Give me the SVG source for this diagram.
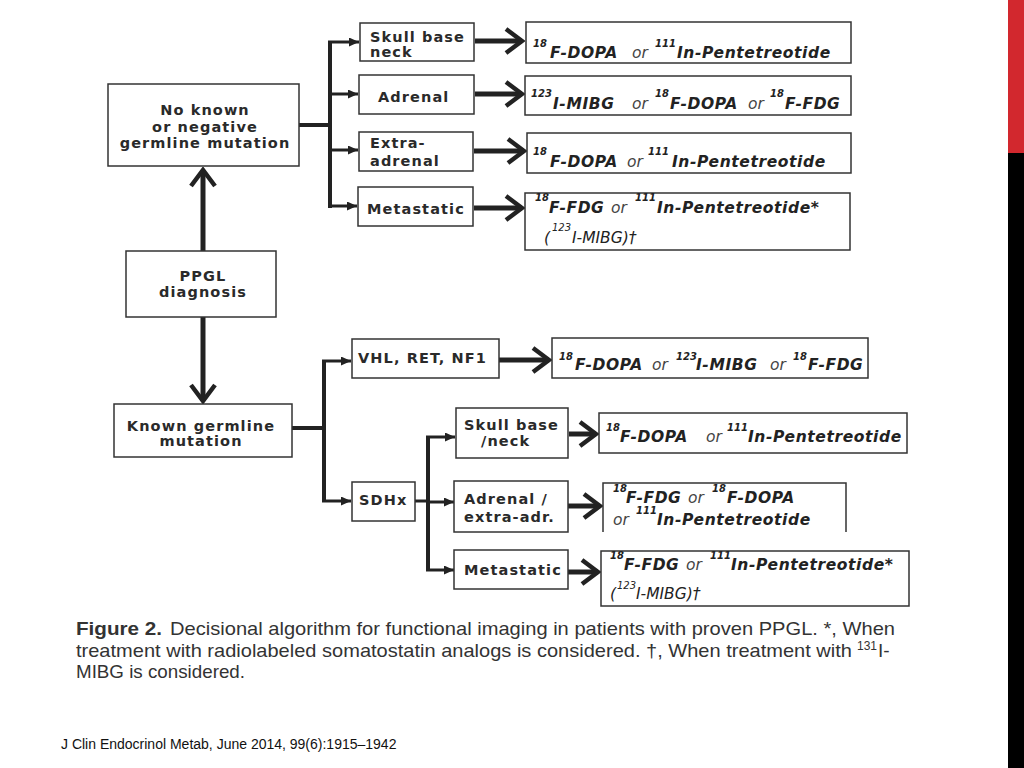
<svg xmlns="http://www.w3.org/2000/svg" width="1024" height="768" viewBox="0 0 1024 768">
<defs>
<style>
.box{fill:#fff;stroke:#333;stroke-width:1.5}
.lbl{font-family:"DejaVu Sans",Verdana,sans-serif;font-weight:bold;font-size:14.5px;letter-spacing:1.1px;fill:#2a2a2a}
.res{font-family:"DejaVu Sans",Verdana,sans-serif;font-size:15.5px;font-style:italic;fill:#222}
.b{font-weight:bold;letter-spacing:0.6px}
.sup{font-size:10px;font-weight:bold}
.or{font-weight:normal;fill:#444}
.it{font-weight:normal}
.thick{stroke:#222;stroke-width:5;fill:none}
.trunk{stroke:#222;stroke-width:4;fill:none}
.thin{stroke:#222;stroke-width:3;fill:none}
.cap{font-family:"Liberation Sans",Arial,sans-serif;font-size:19px;fill:#333}
</style>
<marker id="tri" viewBox="0 0 10 9" refX="10" refY="4.5" markerWidth="10" markerHeight="9" markerUnits="userSpaceOnUse" orient="auto">
<path d="M0,0 L10,4.5 L0,9 z" fill="#222"/>
</marker>
<marker id="chev" viewBox="0 0 22 28" refX="19" refY="14" markerWidth="22" markerHeight="28" markerUnits="userSpaceOnUse" orient="auto">
<path d="M3,2 L19,14 L3,26" fill="none" stroke="#222" stroke-width="4.5"/>
</marker>
</defs>
<rect x="0" y="0" width="1024" height="768" fill="#fff"/>
<rect x="1008" y="0" width="16" height="153" fill="#d2282e"/>
<rect x="1008" y="153" width="16" height="615" fill="#000"/>

<g id="connectors">
<path class="trunk" d="M299,125 H330"/>
<path class="trunk" d="M330,42 V208"/>
<path class="thin" d="M328,42 H359" marker-end="url(#tri)"/>
<path class="thin" d="M328,94 H358" marker-end="url(#tri)"/>
<path class="thin" d="M328,150 H358" marker-end="url(#tri)"/>
<path class="thin" d="M328,206 H357" marker-end="url(#tri)"/>
<path class="thick" d="M475,41 H522" marker-end="url(#chev)"/>
<path class="thick" d="M475,94 H522" marker-end="url(#chev)"/>
<path class="thick" d="M474,151 H524" marker-end="url(#chev)"/>
<path class="thick" d="M474,208 H522" marker-end="url(#chev)"/>
<path class="thick" d="M203,251 V170" marker-end="url(#chev)"/>
<path class="thick" d="M203,317 V401" marker-end="url(#chev)"/>
<path class="trunk" d="M292,428 H324"/>
<path class="trunk" d="M324,360 V502"/>
<path class="thin" d="M322,361 H351" marker-end="url(#tri)"/>
<path class="thin" d="M322,501 H351" marker-end="url(#tri)"/>
<path class="thin" d="M415,501 H428"/>
<path class="trunk" d="M428,437 V571"/>
<path class="thin" d="M426,437 H455" marker-end="url(#tri)"/>
<path class="thin" d="M426,502 H454" marker-end="url(#tri)"/>
<path class="thin" d="M426,570 H454" marker-end="url(#tri)"/>
<path class="thick" d="M499,360 H549" marker-end="url(#chev)"/>
<path class="thick" d="M569,434 H596" marker-end="url(#chev)"/>
<path class="thick" d="M568,506 H600" marker-end="url(#chev)"/>
<path class="thick" d="M568,572 H598" marker-end="url(#chev)"/>
</g>

<g id="n-none">
<rect class="box" x="108" y="84" width="191" height="82"/>
<text class="lbl" text-anchor="middle"><tspan x="205" y="115">No known</tspan><tspan x="205" y="132">or negative</tspan><tspan x="205" y="148">germline mutation</tspan></text>
</g>
<g id="n-ppgl">
<rect class="box" x="126" y="251" width="150" height="66"/>
<text class="lbl" text-anchor="middle"><tspan x="203" y="281">PPGL</tspan><tspan x="203" y="297">diagnosis</tspan></text>
</g>
<g id="n-known">
<rect class="box" x="114" y="404" width="178" height="53"/>
<text class="lbl" text-anchor="middle"><tspan x="201" y="431">Known germline</tspan><tspan x="201" y="446">mutation</tspan></text>
</g>

<g id="n-skull1">
<rect class="box" x="360" y="23" width="114" height="38"/>
<text class="lbl"><tspan x="370" y="42">Skull base</tspan><tspan x="370" y="57">neck</tspan></text>
</g>
<g id="n-adrenal1">
<rect class="box" x="359" y="75" width="115" height="39"/>
<text class="lbl" x="378" y="102">Adrenal</text>
</g>
<g id="n-extra1">
<rect class="box" x="359" y="132" width="114" height="39"/>
<text class="lbl"><tspan x="370" y="148">Extra-</tspan><tspan x="370" y="166">adrenal</tspan></text>
</g>
<g id="n-meta1">
<rect class="box" x="358" y="187" width="115" height="39"/>
<text class="lbl" x="367" y="214">Metastatic</text>
</g>

<g id="r-skull1">
<rect class="box" x="526" y="22" width="325" height="41"/>
<text class="res"><tspan class="sup" x="533" y="47">18</tspan><tspan class="b" x="550" y="58">F-DOPA</tspan><tspan class="or" x="632" y="58">or</tspan><tspan class="sup" x="655" y="47">111</tspan><tspan class="b" x="677" y="58">In-Pentetreotide</tspan></text>
</g>
<g id="r-adrenal1">
<rect class="box" x="525" y="76" width="326" height="39"/>
<text class="res"><tspan class="sup" x="531" y="97">123</tspan><tspan class="b" x="553" y="109">I-MIBG</tspan><tspan class="or" x="632" y="109">or</tspan><tspan class="sup" x="655" y="97">18</tspan><tspan class="b" x="670" y="109">F-DOPA</tspan><tspan class="or" x="748" y="109">or</tspan><tspan class="sup" x="770" y="97">18</tspan><tspan class="b" x="785" y="109">F-FDG</tspan></text>
</g>
<g id="r-extra1">
<rect class="box" x="527" y="133" width="324" height="40"/>
<text class="res"><tspan class="sup" x="533" y="155">18</tspan><tspan class="b" x="550" y="167">F-DOPA</tspan><tspan class="or" x="627" y="167">or</tspan><tspan class="sup" x="648" y="155">111</tspan><tspan class="b" x="672" y="167">In-Pentetreotide</tspan></text>
</g>
<g id="r-meta1">
<rect class="box" x="525" y="193" width="325" height="57"/>
<text class="res"><tspan class="sup" x="535" y="201">18</tspan><tspan class="b" x="549" y="213">F-FDG</tspan><tspan class="or" x="611" y="213">or</tspan><tspan class="sup" x="635" y="201">111</tspan><tspan class="b" x="657" y="213">In-Pentetreotide*</tspan></text>
<text class="res"><tspan class="it" x="544" y="243">(</tspan><tspan class="sup it" x="552" y="231">123</tspan><tspan class="it" x="572" y="243">I-MIBG)†</tspan></text>
</g>

<g id="n-vhl">
<rect class="box" x="352" y="339" width="147" height="39"/>
<text class="lbl" x="358" y="363">VHL, RET, NF1</text>
</g>
<g id="r-vhl">
<rect class="box" x="552" y="338" width="316" height="40"/>
<text class="res"><tspan class="sup" x="559" y="360">18</tspan><tspan class="b" x="575" y="370">F-DOPA</tspan><tspan class="or" x="652" y="370">or</tspan><tspan class="sup" x="676" y="360">123</tspan><tspan class="b" x="696" y="370">I-MIBG</tspan><tspan class="or" x="770" y="370">or</tspan><tspan class="sup" x="793" y="360">18</tspan><tspan class="b" x="808" y="370">F-FDG</tspan></text>
</g>
<g id="n-sdhx">
<rect class="box" x="352" y="482" width="63" height="39"/>
<text class="lbl" x="359" y="505">SDHx</text>
</g>
<g id="n-skull2">
<rect class="box" x="456" y="408" width="112" height="50"/>
<text class="lbl"><tspan x="464" y="430">Skull base</tspan><tspan x="481" y="446">/neck</tspan></text>
</g>
<g id="n-adrenal2">
<rect class="box" x="454" y="481" width="114" height="51"/>
<text class="lbl"><tspan x="464" y="504">Adrenal /</tspan><tspan x="464" y="522">extra-adr.</tspan></text>
</g>
<g id="n-meta2">
<rect class="box" x="454" y="550" width="114" height="39"/>
<text class="lbl" x="464" y="575">Metastatic</text>
</g>
<g id="r-skull2">
<rect class="box" x="599" y="413" width="308" height="40"/>
<text class="res"><tspan class="sup" x="606" y="431">18</tspan><tspan class="b" x="620" y="442">F-DOPA</tspan><tspan class="or" x="706" y="442">or</tspan><tspan class="sup" x="727" y="431">111</tspan><tspan class="b" x="748" y="442">In-Pentetreotide</tspan></text>
</g>
<g id="r-adrenal2">
<path class="box" fill="none" d="M603,532 V483 H846 V532"/>
<text class="res"><tspan class="sup" x="613" y="492">18</tspan><tspan class="b" x="626" y="503">F-FDG</tspan><tspan class="or" x="688" y="503">or</tspan><tspan class="sup" x="712" y="492">18</tspan><tspan class="b" x="727" y="503">F-DOPA</tspan></text>
<text class="res"><tspan class="or" x="613" y="525">or</tspan><tspan class="sup" x="636" y="514">111</tspan><tspan class="b" x="657" y="525">In-Pentetreotide</tspan></text>
</g>
<g id="r-meta2">
<rect class="box" x="601" y="551" width="308" height="55"/>
<text class="res"><tspan class="sup" x="610" y="559">18</tspan><tspan class="b" x="624" y="570">F-FDG</tspan><tspan class="or" x="686" y="570">or</tspan><tspan class="sup" x="710" y="559">111</tspan><tspan class="b" x="731" y="570">In-Pentetreotide*</tspan></text>
<text class="res"><tspan class="it" x="610" y="599">(</tspan><tspan class="sup it" x="617" y="589">123</tspan><tspan class="it" x="636" y="599">I-MIBG)†</tspan></text>
</g>

<g id="caption">
<text class="cap" y="635"><tspan x="76" font-weight="bold" textLength="86" lengthAdjust="spacingAndGlyphs">Figure 2.</tspan><tspan x="170" textLength="725" lengthAdjust="spacingAndGlyphs">Decisional algorithm for functional imaging in patients with proven PPGL. *, When</tspan></text>
<text class="cap" y="657"><tspan x="76" textLength="776" lengthAdjust="spacingAndGlyphs">treatment with radiolabeled somatostatin analogs is considered. †, When treatment with</tspan><tspan x="857" y="650" font-size="12px">131</tspan><tspan x="878" y="657">I-</tspan></text>
<text class="cap" x="76" y="678" textLength="169" lengthAdjust="spacingAndGlyphs">MIBG is considered.</text>
</g>
<text x="61" y="749" font-family="'Liberation Sans',Arial,sans-serif" font-size="14px" fill="#111">J Clin Endocrinol Metab, June 2014, 99(6):1915–1942</text>
</svg>
